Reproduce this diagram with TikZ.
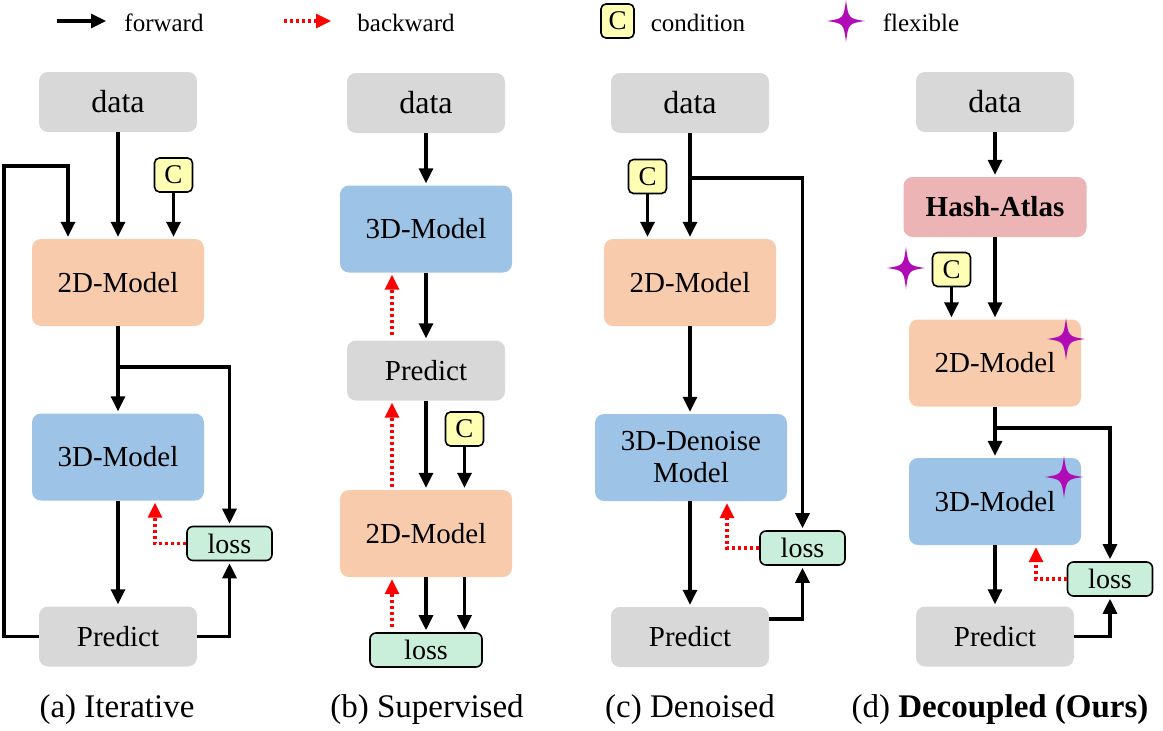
\documentclass[tikz,border=0pt]{standalone}
\usepackage{fontspec}
\setmainfont{Liberation Serif}
\usepackage{tikz}
\usetikzlibrary{positioning}
\usetikzlibrary{arrows.meta}
\definecolor{dataColor}{HTML}{D9D8D9}
\definecolor{twoDColor}{HTML}{F8CBAD}
\definecolor{threeDColor}{HTML}{9DC3E6}
\definecolor{hashColor}{HTML}{ECB4B5}
\definecolor{lossColor}{HTML}{C9EED9}
\definecolor{condColor}{HTML}{FFFFB3}
\definecolor{starColor}{HTML}{B00BB4}
\tikzset{flexStar/.pic={
  \fill[starColor] (0,-21) .. controls (2.5,-2.5) .. (19,0) .. controls (2.5,2.5) .. (0,21)
    .. controls (-2.5,2.5) .. (-19,0) .. controls (-2.5,-2.5) .. (0,-21) -- cycle;}}

\begin{document}
\begin{tikzpicture}[x=1pt,y=-1pt]

          \tikzstyle{box} = [rounded corners=9pt, inner sep=0pt, align=center, font=\fontsize{29}{33}\selectfont];
          \tikzstyle{dataNode} = [box, fill=dataColor, minimum width=158pt, minimum height=60pt, font=\fontsize{32}{36}\selectfont];
          \tikzstyle{predNode} = [box, fill=dataColor, minimum width=158pt, minimum height=60pt];
          \tikzstyle{twoDNode} = [box, fill=twoDColor, minimum width=172pt, minimum height=87pt];
          \tikzstyle{threeDNode} = [box, fill=threeDColor, minimum width=172pt, minimum height=87pt];
          \tikzstyle{hashNode} = [box, fill=hashColor, minimum width=183pt, minimum height=60pt, font=\fontsize{29}{33}\selectfont\bfseries];
          \tikzstyle{lossNode} = [box, draw, line width=1.6pt, rounded corners=6pt, fill=lossColor, minimum width=85pt, minimum height=34pt, font=\fontsize{28}{30}\selectfont];
          \tikzstyle{condNode} = [box, draw, line width=1.6pt, rounded corners=5pt, fill=condColor, minimum width=38pt, minimum height=34pt, font=\fontsize{27}{30}\selectfont];
          \tikzstyle{legendText} = [inner sep=0pt, font=\fontsize{25}{28}\selectfont];
          \tikzstyle{captionText} = [inner sep=0pt, font=\fontsize{33}{36}\selectfont];

          \tikzstyle{fwdEdge} = [line width=3.2pt, -{Triangle[length=15pt,width=14pt]}, shorten >=2pt];
          \tikzstyle{bwdEdge} = [line width=3.2pt, red, dash pattern=on 3pt off 3pt, -{Triangle[length=15pt,width=14pt]}, shorten >=2pt];

          \useasboundingbox (0,0) rectangle (1163,731);

          % legend
          \coordinate (fwdStart) at (57,21);
          \coordinate (fwdEnd) at (106,21);
          \coordinate (bwdStart) at (284,21);
          \coordinate (bwdEnd) at (331,21);
          \draw[fwdEdge, shorten >=0pt] (fwdStart) -- (fwdEnd);
          \draw[bwdEdge, shorten >=0pt] (bwdStart) -- (bwdEnd);
          \node[legendText] (fwdText) at (164,23) {forward};
          \node[legendText] (bwdText) at (406,23) {backward};
          \node[condNode, minimum width=33pt] (legC) at (617.5,21) {C};
          \node[legendText] (condText) at (698,23) {condition};
          \pic at (846,21) {flexStar};
          \node[legendText] (flexText) at (921,23) {flexible};

          % (a) iterative
          \node[dataNode] (aData) at (118,102) {data};
          \node[condNode] (aC) at (173.5,175) {C};
          \node[twoDNode] (a2D) at (118,282.5) {2D-Model};
          \node[threeDNode] (a3D) at (118,457) {3D-Model};
          \node[lossNode] (aLoss) at (229.5,543.5) {loss};
          \node[predNode] (aPred) at (118,636.5) {Predict};
          \coordinate (aSplit) at (118,367);

          \draw[fwdEdge] (aData) -- (a2D);
          \draw[fwdEdge] (aC) -- (aC |- a2D.north);
          \draw[fwdEdge] (aPred.west) -- (4,636.5) -- (4,166) -- (68,166) -- ([xshift=-50pt]a2D.north);
          \draw[fwdEdge] (a2D) -- (a3D);
          \draw[fwdEdge] (aSplit) -| (aLoss.north);
          \draw[fwdEdge] (a3D) -- (aPred);
          \draw[fwdEdge] (aPred.east) -| (aLoss.south);
          \draw[bwdEdge] (aLoss.west) -| ([xshift=37pt]a3D.south);
          \node[captionText] (aCap) at (117,710) {(a) Iterative};

          % (b) supervised
          \node[dataNode] (bData) at (426,103) {data};
          \node[threeDNode] (b3D) at (426,229) {3D-Model};
          \node[predNode] (bPred) at (426,370.5) {Predict};
          \node[condNode] (bC) at (464.5,429) {C};
          \node[twoDNode] (b2D) at (426,533.5) {2D-Model};
          \node[lossNode, minimum width=112pt] (bLoss) at (426,650) {loss};

          \draw[fwdEdge] (bData) -- (b3D);
          \draw[fwdEdge] (b3D) -- (bPred);
          \draw[fwdEdge] (bPred) -- (b2D);
          \draw[fwdEdge] (bC) -- (bC |- b2D.north);
          \draw[fwdEdge] (b2D) -- (bLoss);
          \draw[fwdEdge] (bC |- b2D.south) -- (bC |- bLoss.north);
          \draw[bwdEdge, shorten <=5pt] ([xshift=-34pt]bLoss.north) -- ([xshift=-34pt]b2D.south);
          \draw[bwdEdge, shorten <=3pt] ([xshift=-34pt]b2D.north) -- ([xshift=-34pt]bPred.south);
          \draw[bwdEdge, shorten <=5pt] ([xshift=-34pt]bPred.north) -- ([xshift=-34pt]b3D.south);
          \node[captionText] (bCap) at (427,710) {(b) Supervised};

          % (c) denoised
          \node[dataNode] (cData) at (690,103) {data};
          \node[condNode] (cC) at (647.5,176.5) {C};
          \node[twoDNode] (c2D) at (690,282.5) {2D-Model};
          \node[threeDNode, minimum width=192pt, font=\fontsize{29}{32}\selectfont] (c3D) at (691,457.5) {3D-Denoise\\Model};
          \node[lossNode] (cLoss) at (802.5,548) {loss};
          \node[predNode] (cPred) at (690,637) {Predict};
          \coordinate (cSplit) at (690,178);

          \draw[fwdEdge] (cData) -- (c2D);
          \draw[fwdEdge] (cSplit) -| (cLoss.north);
          \draw[fwdEdge] (cC) -- (cC |- c2D.north);
          \draw[fwdEdge] (c2D) -- (c2D |- c3D.north);
          \draw[fwdEdge] (cPred |- c3D.south) -- (cPred);
          \draw[fwdEdge] ([yshift=18pt]cPred.east) -| (cLoss.south);
          \draw[bwdEdge] (cLoss.west) -| ([xshift=36pt]c3D.south);
          \node[captionText] (cCap) at (690,710) {(c) Denoised};

          % (d) decoupled
          \node[dataNode] (dData) at (995,102) {data};
          \node[hashNode] (dHash) at (995,207) {Hash-Atlas};
          \node[condNode] (dC) at (951.5,269.5) {C};
          \node[twoDNode] (d2D) at (995,363) {2D-Model};
          \node[threeDNode] (d3D) at (995,501.5) {3D-Model};
          \node[lossNode] (dLoss) at (1110,579) {loss};
          \node[predNode] (dPred) at (995,636.5) {Predict};
          \coordinate (dSplit) at (995,428);
          \pic at (906,268) {flexStar};
          \pic at (1066,339) {flexStar};
          \pic at (1064,477) {flexStar};

          \draw[fwdEdge] (dData) -- (dHash);
          \draw[fwdEdge] (dHash) -- (d2D);
          \draw[fwdEdge] (dC) -- (dC |- d2D.north);
          \draw[fwdEdge] (d2D) -- (d3D);
          \draw[fwdEdge] (dSplit) -| (dLoss.north);
          \draw[fwdEdge] (d3D) -- (dPred);
          \draw[fwdEdge] (dPred.east) -| (dLoss.south);
          \draw[bwdEdge] (dLoss.west) -| ([xshift=41pt]d3D.south);
          \node[captionText] (dCap) at (1000,710) {(d) \textbf{Decoupled (Ours)}};
        \end{tikzpicture}
\end{document}
